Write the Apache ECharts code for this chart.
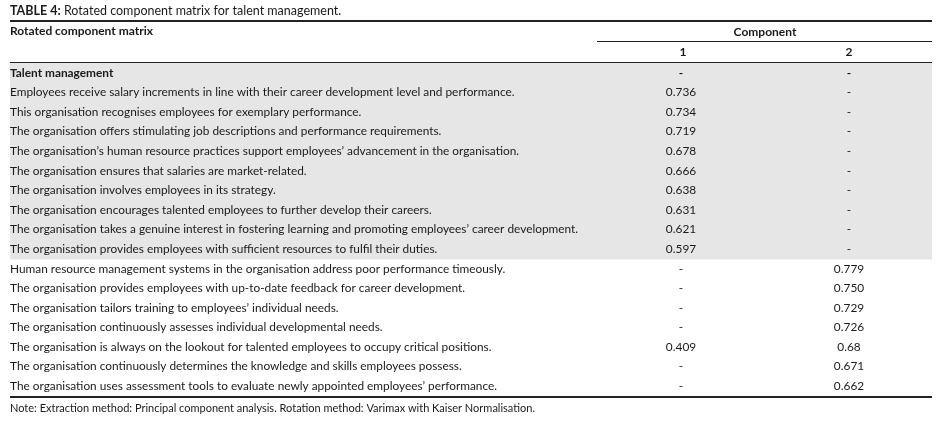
<!DOCTYPE html>
<html>
<head>
<meta charset="utf-8">
<script src="https://cdn.jsdelivr.net/npm/echarts@6/dist/echarts.min.js"></script>
<style>
  html, body { margin: 0; padding: 0; background: #fff; }
  #main { width: 948px; height: 421px; }
</style>
</head>
<body>
<div id="main"></div>
<script>
// table content
var rowLabels = [
  'Talent management',
  'Employees receive salary increments in line with their career development level and performance.',
  'This organisation recognises employees for exemplary performance.',
  'The organisation offers stimulating job descriptions and performance requirements.',
  'The organisation\u2019s human resource practices support employees\u2019 advancement in the organisation.',
  'The organisation ensures that salaries are market-related.',
  'The organisation involves employees in its strategy.',
  'The organisation encourages talented employees to further develop their careers.',
  'The organisation takes a genuine interest in fostering learning and promoting employees\u2019 career development.',
  'The organisation provides employees with sufficient resources to fulfil their duties.',
  'Human resource management systems in the organisation address poor performance timeously.',
  'The organisation provides employees with up-to-date feedback for career development.',
  'The organisation tailors training to employees\u2019 individual needs.',
  'The organisation continuously assesses individual developmental needs.',
  'The organisation is always on the lookout for talented employees to occupy critical positions.',
  'The organisation continuously determines the knowledge and skills employees possess.',
  'The organisation uses assessment tools to evaluate newly appointed employees\u2019 performance.'
];
var component1 = ['-', '0.736', '0.734', '0.719', '0.678', '0.666', '0.638', '0.631', '0.621', '0.597',
                  '-', '-', '-', '-', '0.409', '-', '-'];
var component2 = ['-', '-', '-', '-', '-', '-', '-', '-', '-', '-',
                  '0.779', '0.750', '0.729', '0.726', '0.68', '0.671', '0.662'];
var shadedRows = 10;   // first block (talent management group)
var boldRows = [0];

var FONT = 'Lato, "Open Sans", sans-serif';
var TXT = '#1a1a1a';
var COL_X = [0, 671, 839];   // left edge of label col, centers of value cols (axis units)

var cells = [];
rowLabels.forEach(function (lab, i) {
  cells.push([0, i, lab]);
  cells.push([1, i, component1[i]]);
  cells.push([2, i, component2[i]]);
});

var chart = echarts.init(document.getElementById('main'));

chart.setOption({
  animation: false,
  grid: { left: 10, right: 16, top: 63, bottom: 25 },
  xAxis: { type: 'value', min: 0, max: 922, show: false },
  yAxis: {
    type: 'category', inverse: true, show: false,
    data: rowLabels.map(function (d, i) { return i; })
  },
  series: [{
    type: 'custom',
    data: cells,
    encode: { x: 0, y: 1 },
    renderItem: function (params, api) {
      var col = api.value(0), row = api.value(1);
      var txt = cells[params.dataIndex][2];
      var p = api.coord([COL_X[col], row]);
      var h = api.size([0, 1])[1];
      var cs = params.coordSys;
      var kids = [];
      if (col === 0 && row < shadedRows) {
        kids.push({
          type: 'rect',
          shape: { x: cs.x, y: p[1] - h / 2, width: cs.width, height: h + 0.5 },
          style: { fill: '#e6e6e6' },
          z2: 0
        });
      }
      kids.push({
        type: 'text',
        x: p[0], y: p[1],
        style: {
          text: txt,
          fill: TXT,
          font: (boldRows.indexOf(row) > -1 ? 'bold ' : '') + '11.85px ' + FONT,
          align: col === 0 ? 'left' : 'center',
          verticalAlign: 'middle'
        },
        z2: 10
      });
      return { type: 'group', children: kids };
    }
  }],
  graphic: [
    { type: 'text', left: 10, top: 4, style: {
        text: '{b|TABLE 4:} Rotated component matrix for talent management.',
        font: '12.5px ' + FONT, fill: TXT,
        rich: { b: { fontWeight: 'bold', fontSize: 12.5, fontFamily: FONT, fill: TXT } }
    } },
    { type: 'line', shape: { x1: 10, y1: 21, x2: 932, y2: 21 }, style: { stroke: '#222', lineWidth: 2 } },
    { type: 'text', left: 10, top: 25, style: { text: 'Rotated component matrix', font: 'bold 12px ' + FONT, fill: TXT } },
    { type: 'text', x: 765, y: 32, style: { text: 'Component', font: 'bold 12px ' + FONT, fill: TXT, align: 'center', verticalAlign: 'middle' } },
    { type: 'line', shape: { x1: 597, y1: 41.5, x2: 932, y2: 41.5 }, style: { stroke: '#222', lineWidth: 1 } },
    { type: 'text', x: 683, y: 52, style: { text: '1', font: 'bold 12px ' + FONT, fill: TXT, align: 'center', verticalAlign: 'middle' } },
    { type: 'text', x: 849, y: 52, style: { text: '2', font: 'bold 12px ' + FONT, fill: TXT, align: 'center', verticalAlign: 'middle' } },
    { type: 'line', shape: { x1: 10, y1: 62.5, x2: 932, y2: 62.5 }, style: { stroke: '#222', lineWidth: 1 } },
    { type: 'line', shape: { x1: 10, y1: 397, x2: 932, y2: 397 }, style: { stroke: '#222', lineWidth: 2 } },
    { type: 'text', left: 10, top: 403, style: {
        text: 'Note: Extraction method: Principal component analysis. Rotation method: Varimax with Kaiser Normalisation.',
        font: '11px ' + FONT, fill: TXT
    } }
  ]
});
</script>
</body>
</html>
